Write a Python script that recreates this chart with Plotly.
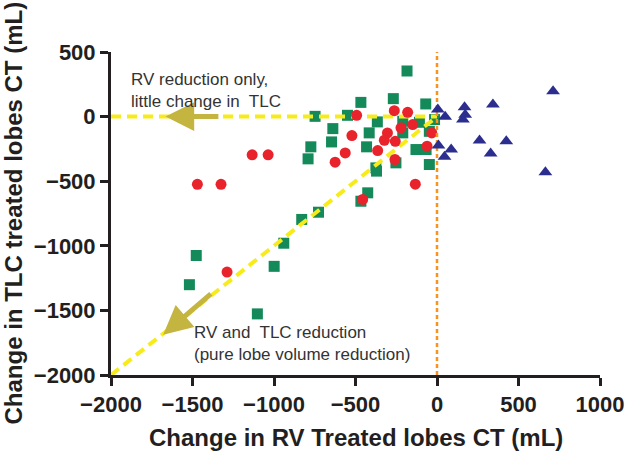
import plotly.graph_objects as go

# ---- data ----
red_x = [-493, -262, -180, -522, -304, -323, -256, -364, -563, -625, -258, -133, -61, -32, -149, -221, -456, -1134, -1036, -1470, -1325, -1288]
red_y = [10, 46, 33, -147, -126, -183, -191, -263, -281, -353, -332, -523, -229, -126, -62, -87, -641, -296, -296, -524, -524, -1203]

green_x = [-184, -467, -268, -69, -748, -549, -639, -416, -366, -210, -108, -15, -47, -647, -774, -791, -432, -210, -129, -67, -252, -47, -375, -371, -425, -467, -727, -830, -940, -999, -1477, -1519, -1102]
green_y = [353, 110, 139, 98, 2, 10, -93, -126, -41, -36, -44, -23, -114, -196, -234, -327, -234, -126, -255, -255, -358, -371, -397, -422, -590, -655, -740, -796, -980, -1159, -1075, -1301, -1527]

blue_x = [5, 50, 169, 173, 159, 343, 712, 9, 87, 46, 261, 425, 329, 665]
blue_y = [54, -2, 72, 15, -23, 93, 196, -224, -255, -311, -185, -190, -286, -430]

# reference lines
horiz_x = [-2000, 0]
horiz_y = [0, 0]
diag_x = [-2000, 0]
diag_y = [-2000, 0]
vert_x = [0, 0]
vert_y = [-2000, 500]

tick_vals_x = [-2000, -1500, -1000, -500, 0, 500, 1000]
tick_text_x = ["\u22122000", "\u22121500", "\u22121000", "\u2212500", "0", "500", "1000"]
tick_vals_y = [500, 0, -500, -1000, -1500, -2000]
tick_text_y = ["500", "0", "\u2212500", "\u22121000", "\u22121500", "\u22122000"]

RED = "#e8232b"
GREEN = "#14895a"
BLUE = "#2b2e8f"
YELLOW = "#f7ec1a"
ORANGE = "#f7931e"
OLIVE = "#c4b440"
AXIS = "#231f20"

W, H = 626, 451
ML, MR, MT, MB = 111, 26, 52, 76
plot_w = W - ML - MR
plot_h = H - MT - MB

fig = go.Figure()

fig.add_trace(go.Scatter(x=green_x, y=green_y, mode="markers",
                         marker=dict(symbol="square", size=11, color=GREEN),
                         cliponaxis=False, hoverinfo="skip"))
fig.add_trace(go.Scatter(x=horiz_x, y=horiz_y, mode="lines",
                         line=dict(color=YELLOW, width=4, dash="10px,6px"),
                         cliponaxis=False, hoverinfo="skip"))
fig.add_trace(go.Scatter(x=diag_x, y=diag_y, mode="lines",
                         line=dict(color=YELLOW, width=4, dash="10px,6px"),
                         cliponaxis=False, hoverinfo="skip"))
fig.add_trace(go.Scatter(x=red_x, y=red_y, mode="markers",
                         marker=dict(symbol="circle", size=11, color=RED),
                         cliponaxis=False, hoverinfo="skip"))
fig.add_trace(go.Scatter(x=vert_x, y=vert_y, mode="lines",
                         line=dict(color=ORANGE, width=2.5, dash="4px,3px"),
                         cliponaxis=False, hoverinfo="skip"))
fig.add_trace(go.Scatter(x=blue_x, y=blue_y, mode="markers",
                         marker=dict(symbol="triangle-up", size=12, color=BLUE),
                         cliponaxis=False, hoverinfo="skip"))

# arrows
fig.add_annotation(x=-1666, y=0, ax=-1332, ay=0, xref="x", yref="y", axref="x", ayref="y",
                   showarrow=True, arrowhead=2, arrowsize=1.15, arrowwidth=5, arrowcolor=OLIVE, text="")
fig.add_annotation(x=-1680, y=-1688, ax=-1378, ay=-1362, xref="x", yref="y", axref="x", ayref="y",
                   showarrow=True, arrowhead=2, arrowsize=1.15, arrowwidth=5, arrowcolor=OLIVE, text="")

txt_font = dict(family="Liberation Sans, Arial, sans-serif", size=17, color="#333333")
fig.add_annotation(x=-1887, y=205, xref="x", yref="y", xanchor="left", yanchor="middle",
                   text="RV reduction only,<br>little change in  TLC", showarrow=False,
                   align="left", font=txt_font)
fig.add_annotation(x=-1506, y=-1754, xref="x", yref="y", xanchor="left", yanchor="middle",
                   text="RV and  TLC reduction<br>(pure lobe volume reduction)", showarrow=False,
                   align="left", font=txt_font)

title_font = dict(family="Liberation Sans, Arial, sans-serif", size=24, color=AXIS, weight="bold")
fig.add_annotation(x=0.5, y=(H - MB - 437) / plot_h, xref="paper", yref="paper",
                   text="Change in RV Treated lobes CT (mL)",
                   showarrow=False, font=title_font, xanchor="center", yanchor="middle")
fig.add_annotation(x=(13 - ML) / plot_w, y=0.5, xref="paper", yref="paper",
                   text="Change in TLC treated lobes CT (mL)", textangle=-90,
                   showarrow=False, font=title_font, xanchor="center", yanchor="middle")

fig.update_layout(
    width=W, height=H,
    margin=dict(l=ML, r=MR, t=MT, b=MB, autoexpand=False),
    paper_bgcolor="white", plot_bgcolor="white",
    showlegend=False,
    font=dict(family="Liberation Sans, Arial, sans-serif", color=AXIS),
)

tick_font = dict(family="Liberation Sans, Arial, sans-serif", size=22, color=AXIS, weight="bold")
fig.update_xaxes(range=[-2000, 1000], tickvals=tick_vals_x, ticktext=tick_text_x,
                 showline=True, linewidth=3, linecolor=AXIS, ticks="outside", ticklen=8,
                 tickwidth=3, tickcolor=AXIS, showgrid=False, zeroline=False,
                 tickfont=tick_font, automargin=False)
fig.update_yaxes(range=[-2000, 500], tickvals=tick_vals_y, ticktext=tick_text_y,
                 showline=True, linewidth=3, linecolor=AXIS, ticks="outside", ticklen=8,
                 tickwidth=3, tickcolor=AXIS, showgrid=False, zeroline=False,
                 tickfont=tick_font, automargin=False)

fig.write_html("out.html", config={"displayModeBar": False},
               post_script="document.body.style.margin='0';document.body.style.overflow='hidden';")
